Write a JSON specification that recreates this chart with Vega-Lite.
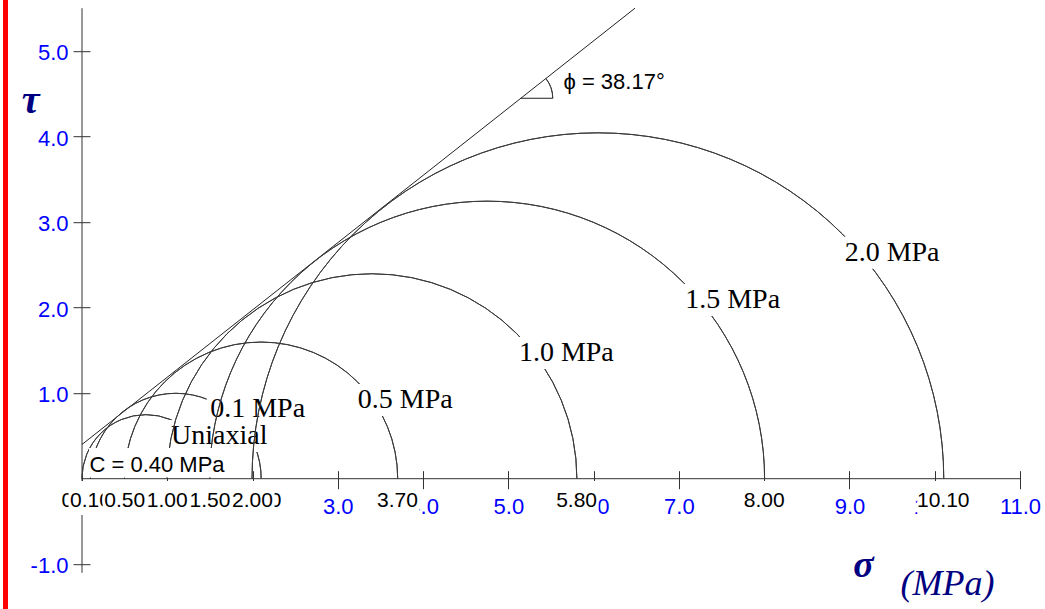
{
  "$schema": "https://vega.github.io/schema/vega-lite/v6.json",
  "width": 938,
  "height": 564.6,
  "autosize": "none",
  "padding": {"left": 82, "top": 8.2, "right": 25, "bottom": 36.2},
  "background": "white",
  "config": {"view": {"stroke": null}},
  "datasets": {
    "envelope": [{"s0": 0, "t0": 0.4, "s1": 6.485, "t1": 5.5}],
    "circles": [
      {"name": "Uniaxial", "s3": 0.0, "s1": 1.5, "c": 0.75, "r": 0.75, "lx": 1.61, "ly": 0.5},
      {"name": "0.1 MPa", "s3": 0.1, "s1": 2.1, "c": 1.1, "r": 1.0, "lx": 2.06, "ly": 0.82},
      {"name": "0.5 MPa", "s3": 0.5, "s1": 3.7, "c": 2.1, "r": 1.6, "lx": 3.79, "ly": 0.92},
      {"name": "1.0 MPa", "s3": 1.0, "s1": 5.8, "c": 3.4, "r": 2.4, "lx": 5.68, "ly": 1.47},
      {"name": "1.5 MPa", "s3": 1.5, "s1": 8.0, "c": 4.75, "r": 3.25, "lx": 7.63, "ly": 2.09},
      {"name": "2.0 MPa", "s3": 2.0, "s1": 10.1, "c": 6.05, "r": 4.05, "lx": 9.5, "ly": 2.64}
    ],
    "notes": [
      {"text": "C = 0.40 MPa", "sigma": 0.88, "tau": 0.16},
      {"text": "ϕ = 38.17°", "sigma": 6.24, "tau": 4.64}
    ],
    "angle": [{"s0": 5.145, "s1": 5.52, "t": 4.447, "r": 0.375}]
  },
  "layer": [
    {
      "data": {"name": "envelope"},
      "mark": {"type": "rule", "color": "#ff0000", "strokeWidth": 5, "clip": false},
      "encoding": {
        "x": {"datum": -0.897, "type": "quantitative"},
        "y": {"datum": 5.62, "type": "quantitative"},
        "y2": {"datum": -1.56}
      }
    },
    {
      "data": {"name": "envelope"},
      "mark": {"type": "rule", "color": "#333333", "strokeWidth": 1},
      "encoding": {"y": {"datum": 0, "type": "quantitative"}}
    },
    {
      "data": {"name": "envelope"},
      "mark": {"type": "rule", "color": "#333333", "strokeWidth": 1},
      "encoding": {"x": {"datum": 0, "type": "quantitative"}}
    },
    {
      "data": {"name": "envelope"},
      "mark": {"type": "rule", "color": "#222222", "strokeWidth": 1},
      "encoding": {
        "x": {
          "field": "s0", "type": "quantitative",
          "scale": {"domain": [0, 11], "nice": false, "zero": false},
          "axis": {
            "orient": "bottom", "offset": -102.1, "domain": false, "grid": false, "zindex": 0,
            "values": [0, 1, 2, 3, 4, 5, 6, 7, 8, 9, 10, 11], "format": ".1f",
            "tickSize": 18, "tickColor": "#333333", "tickWidth": 1,
            "labelFont": "Liberation Sans", "labelFontSize": 22, "labelColor": "#0000ff",
            "labelPadding": 8, "labelOverlap": false, "labelFlush": false, "labelBound": false,
            "title": "σ", "titleX": 781, "titleY": 106, "titleAlign": "center", "titleBaseline": "alphabetic",
            "titleFont": "Liberation Serif", "titleFontStyle": "italic", "titleFontWeight": "bold",
            "titleFontSize": 38, "titleColor": "#000080"
          }
        },
        "y": {
          "field": "t0", "type": "quantitative",
          "scale": {"domain": [-1.1, 5.5], "nice": false, "zero": false},
          "axis": {
            "orient": "left", "offset": -8, "domain": false, "grid": false, "zindex": 0,
            "values": [-1, 1, 2, 3, 4, 5], "format": ".1f",
            "labelExpr": "replace(datum.label, '−', '-')",
            "tickSize": 17, "tickColor": "#333333", "tickWidth": 1,
            "labelFont": "Liberation Sans", "labelFontSize": 22, "labelColor": "#0000ff",
            "labelPadding": 5, "labelOffset": 1.5, "labelOverlap": false, "labelBound": false,
            "title": "τ", "titleAngle": 0, "titleX": -60, "titleY": 104, "titleAlign": "center", "titleBaseline": "alphabetic",
            "titleFont": "Liberation Serif", "titleFontStyle": "italic", "titleFontWeight": "bold",
            "titleFontSize": 40, "titleColor": "#000080"
          }
        },
        "x2": {"field": "s1"},
        "y2": {"field": "t1"}
      }
    },
    {
      "data": {"name": "envelope"},
      "mark": {"type": "text", "text": "(MPa)", "font": "Liberation Serif", "fontStyle": "italic", "fontSize": 36, "color": "#000080", "align": "center", "baseline": "alphabetic", "clip": false},
      "encoding": {
        "x": {"datum": 10.15, "type": "quantitative"},
        "y": {"datum": -1.36, "type": "quantitative"}
      }
    },
    {
      "data": {"name": "circles"},
      "transform": [{"filter": "datum.r <= 1"}],
      "mark": {"type": "arc", "theta": -1.5708, "theta2": 1.5708, "filled": false, "stroke": "#3a3a3a", "strokeWidth": 1},
      "encoding": {
        "x": {"field": "c", "type": "quantitative", "stack": null},
        "y": {"datum": 0, "type": "quantitative"},
        "radius": {"field": "r", "type": "quantitative", "stack": null, "scale": {"type": "linear", "domain": [0, 11], "range": [0, 939.4], "zero": true}},
        "radius2": {"field": "r"}
      }
    },
    {
      "data": {"name": "circles"},
      "transform": [{"filter": "datum.r <= 1"}],
      "mark": {"type": "point", "shape": "M-51,-16H51V16H-51Z", "size": 4, "filled": true, "fill": "white", "strokeWidth": 0, "opacity": 1},
      "encoding": {
        "x": {"field": "lx", "type": "quantitative"},
        "y": {"field": "ly", "type": "quantitative"}
      }
    },
    {
      "data": {"name": "circles"},
      "transform": [{"filter": "datum.r <= 1"}],
      "mark": {"type": "text", "font": "Liberation Serif", "fontSize": 28, "color": "black", "align": "center", "baseline": "middle"},
      "encoding": {
        "x": {"field": "lx", "type": "quantitative"},
        "y": {"field": "ly", "type": "quantitative"},
        "text": {"field": "name"}
      }
    },
    {
      "data": {"name": "circles"},
      "transform": [{"filter": "datum.r > 1"}],
      "mark": {"type": "arc", "theta": -1.5708, "theta2": 1.5708, "filled": false, "stroke": "#3a3a3a", "strokeWidth": 1},
      "encoding": {
        "x": {"field": "c", "type": "quantitative", "stack": null},
        "y": {"datum": 0, "type": "quantitative"},
        "radius": {"field": "r", "type": "quantitative", "stack": null, "scale": {"type": "linear", "domain": [0, 11], "range": [0, 939.4], "zero": true}},
        "radius2": {"field": "r"}
      }
    },
    {
      "data": {"name": "circles"},
      "transform": [{"filter": "datum.r > 1"}],
      "mark": {"type": "point", "shape": "M-51,-16H51V16H-51Z", "size": 4, "filled": true, "fill": "white", "strokeWidth": 0, "opacity": 1},
      "encoding": {
        "x": {"field": "lx", "type": "quantitative"},
        "y": {"field": "ly", "type": "quantitative"}
      }
    },
    {
      "data": {"name": "circles"},
      "transform": [{"filter": "datum.r > 1"}],
      "mark": {"type": "text", "font": "Liberation Serif", "fontSize": 28, "color": "black", "align": "center", "baseline": "middle"},
      "encoding": {
        "x": {"field": "lx", "type": "quantitative"},
        "y": {"field": "ly", "type": "quantitative"},
        "text": {"field": "name"}
      }
    },
    {
      "data": {"name": "notes"},
      "transform": [{"filter": "datum.sigma < 2"}],
      "mark": {"type": "point", "shape": "M-68,-14.7H68V14.7H-68Z", "size": 4, "filled": true, "fill": "white", "strokeWidth": 0, "opacity": 1, "yOffset": -2.3},
      "encoding": {
        "x": {"field": "sigma", "type": "quantitative"},
        "y": {"field": "tau", "type": "quantitative"}
      }
    },
    {
      "data": {"name": "notes"},
      "mark": {"type": "text", "font": "Liberation Sans", "fontSize": 22, "color": "black", "align": "center", "baseline": "middle"},
      "encoding": {
        "x": {"field": "sigma", "type": "quantitative"},
        "y": {"field": "tau", "type": "quantitative"},
        "text": {"field": "text"}
      }
    },
    {
      "data": {"name": "angle"},
      "mark": {"type": "rule", "color": "#222222", "strokeWidth": 1},
      "encoding": {
        "x": {"field": "s0", "type": "quantitative"},
        "x2": {"field": "s1"},
        "y": {"field": "t", "type": "quantitative"}
      }
    },
    {
      "data": {"name": "angle"},
      "mark": {"type": "arc", "theta": 0.9046, "theta2": 1.5708, "filled": false, "stroke": "#3a3a3a", "strokeWidth": 1},
      "encoding": {
        "x": {"field": "s0", "type": "quantitative", "stack": null},
        "y": {"field": "t", "type": "quantitative", "stack": null},
        "radius": {"field": "r", "type": "quantitative", "stack": null, "scale": {"type": "linear", "domain": [0, 11], "range": [0, 939.4], "zero": true}},
        "radius2": {"field": "r"}
      }
    },
    {
      "data": {"name": "circles"},
      "transform": [
        {"fold": ["s3", "s1"], "as": ["k", "v"]},
        {"filter": "(indexof([0.1, 0.5, 1, 2], datum.v) < 0 && datum.k == 's1' || datum.v == 0) && datum.v < 10"}
      ],
      "mark": {"type": "point", "shape": "M-22,-17H22V17H-22Z", "size": 4, "filled": true, "fill": "white", "strokeWidth": 0, "opacity": 1, "yOffset": 19.3},
      "encoding": {
        "x": {"field": "v", "type": "quantitative"},
        "y": {"datum": 0, "type": "quantitative"}
      }
    },
    {
      "data": {"name": "circles"},
      "transform": [
        {"fold": ["s3", "s1"], "as": ["k", "v"]},
        {"filter": "datum.v >= 10"}
      ],
      "mark": {"type": "point", "shape": "M-26,-17H26V17H-26Z", "size": 4, "filled": true, "fill": "white", "strokeWidth": 0, "opacity": 1, "yOffset": 19.3},
      "encoding": {
        "x": {"field": "v", "type": "quantitative"},
        "y": {"datum": 0, "type": "quantitative"}
      }
    },
    {
      "data": {"name": "circles"},
      "transform": [
        {"fold": ["s3", "s1"], "as": ["k", "v"]},
        {"filter": "indexof([0.1, 0.5, 1, 2], datum.v) < 0 && datum.k == 's1' || datum.v == 0"}
      ],
      "mark": {"type": "text", "font": "Liberation Sans", "fontSize": 21, "color": "black", "align": "center", "baseline": "alphabetic", "yOffset": 28.3},
      "encoding": {
        "x": {"field": "v", "type": "quantitative"},
        "y": {"datum": 0, "type": "quantitative"},
        "text": {"field": "v", "format": ".2f"}
      }
    },
    {
      "data": {"name": "circles"},
      "transform": [
        {"fold": ["s3", "s1"], "as": ["k", "v"]},
        {"filter": "datum.k == 's3' && indexof([0.1, 1, 2], datum.v) >= 0"}
      ],
      "mark": {"type": "point", "shape": "M-22,-17H22V17H-22Z", "size": 4, "filled": true, "fill": "white", "strokeWidth": 0, "opacity": 1, "yOffset": 19.3},
      "encoding": {
        "x": {"field": "v", "type": "quantitative"},
        "y": {"datum": 0, "type": "quantitative"}
      }
    },
    {
      "data": {"name": "circles"},
      "transform": [
        {"fold": ["s3", "s1"], "as": ["k", "v"]},
        {"filter": "datum.k == 's3' && indexof([0.1, 1, 2], datum.v) >= 0"}
      ],
      "mark": {"type": "text", "font": "Liberation Sans", "fontSize": 21, "color": "black", "align": "center", "baseline": "alphabetic", "yOffset": 28.3},
      "encoding": {
        "x": {"field": "v", "type": "quantitative"},
        "y": {"datum": 0, "type": "quantitative"},
        "text": {"field": "v", "format": ".2f"}
      }
    },
    {
      "data": {"name": "circles"},
      "transform": [
        {"fold": ["s3", "s1"], "as": ["k", "v"]},
        {"filter": "datum.k == 's3' && indexof([0.5, 1.5], datum.v) >= 0"}
      ],
      "mark": {"type": "point", "shape": "M-22,-17H22V17H-22Z", "size": 4, "filled": true, "fill": "white", "strokeWidth": 0, "opacity": 1, "yOffset": 19.3},
      "encoding": {
        "x": {"field": "v", "type": "quantitative"},
        "y": {"datum": 0, "type": "quantitative"}
      }
    },
    {
      "data": {"name": "circles"},
      "transform": [
        {"fold": ["s3", "s1"], "as": ["k", "v"]},
        {"filter": "datum.k == 's3' && indexof([0.5, 1.5], datum.v) >= 0"}
      ],
      "mark": {"type": "text", "font": "Liberation Sans", "fontSize": 21, "color": "black", "align": "center", "baseline": "alphabetic", "yOffset": 28.3},
      "encoding": {
        "x": {"field": "v", "type": "quantitative"},
        "y": {"datum": 0, "type": "quantitative"},
        "text": {"field": "v", "format": ".2f"}
      }
    }
  ]
}
